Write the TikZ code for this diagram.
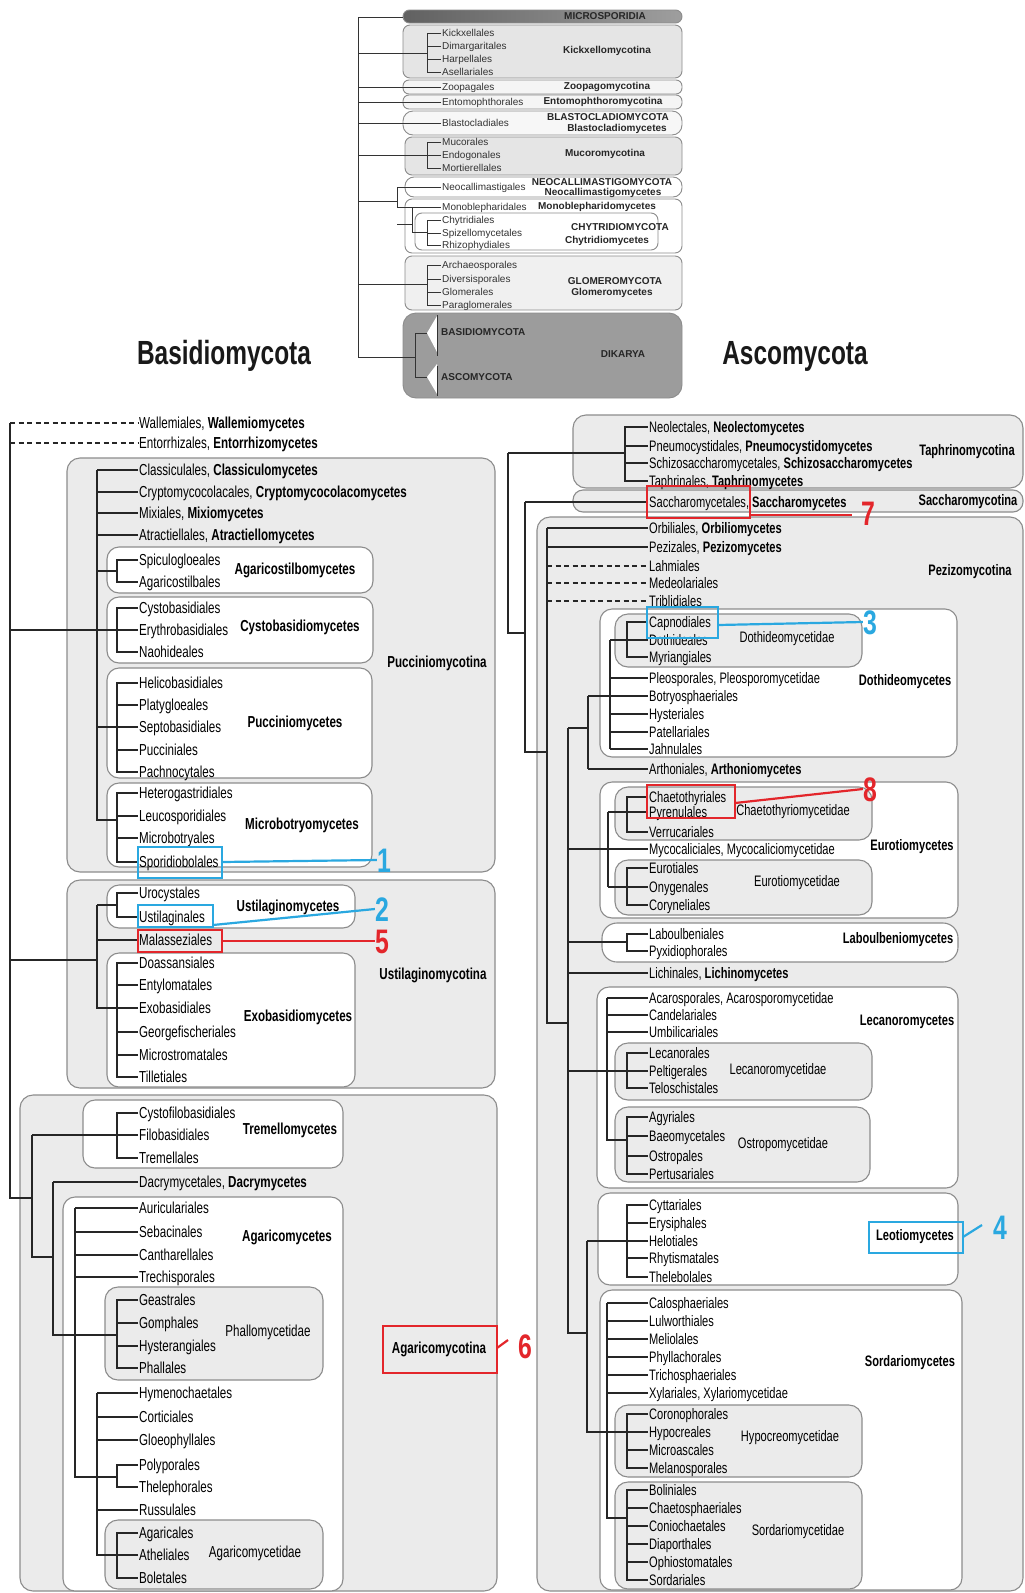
\documentclass[tikz,border=0pt]{standalone}
\usepackage{fontspec}
\setmainfont{Liberation Sans}
\newfontfamily\cond{Liberation Sans}[FakeStretch=0.73]
\definecolor{annb}{HTML}{2AA8E0}
\definecolor{annr}{HTML}{E3262B}
\definecolor{lgray}{HTML}{EBEBEB}
\definecolor{dgray}{HTML}{9C9C9C}
\definecolor{bord}{HTML}{8C8C8C}
\newcommand\brk[3][21]{\draw[tree] (#2.west) -- ++(-#1,0) |- (#3.west);}
\newcommand\tik[2][21]{\draw[tree] (#2.west) -- ++(-#1,0);}
\newcommand\brkT[3][14]{\draw[treeT] (#2.west) -- ++(-#1,0) |- (#3.west);}
\newcommand\tikT[2][14]{\draw[treeT] (#2.west) -- ++(-#1,0);}
\newcommand\lfL[3]{\node[leafL] (#1) at (138,#2) {#3};}
\newcommand\lfR[3]{\node[leafR] (#1) at (648,#2) {#3};}
\newcommand\lfT[3]{\node[leafT] (#1) at (441,#2) {#3};}
\begin{document}
\begin{tikzpicture}[x=1pt,y=-1pt,
 tree/.style={draw=black!85, line width=1.5pt},
 treeT/.style={draw=black!80, line width=1pt},
 dashtree/.style={draw=black!85, line width=1.3pt, dash pattern=on 5pt off 3.5pt},
 gbox/.style={draw=bord, line width=1.1pt, fill=lgray, rounded corners=13pt},
 wbox/.style={draw=bord, line width=1.1pt, fill=white, rounded corners=12pt},
 tbox/.style={draw=bord, line width=0.9pt, rounded corners=7pt},
 leafL/.style={anchor=west, inner sep=1pt, text height=11pt, text depth=0pt, font=\cond\fontsize{15.9}{16}\selectfont},
 leafR/.style={anchor=west, inner sep=1pt, text height=10.6pt, text depth=0pt, font=\cond\fontsize{15.2}{15}\selectfont},
 leafT/.style={anchor=west, inner sep=1pt, text height=7pt, text depth=0pt, font=\fontsize{10}{10}\selectfont, text=black!80},
 labL/.style={inner sep=0pt, font=\cond\bfseries\fontsize{15.9}{16}\selectfont},
 subL/.style={inner sep=0pt, font=\cond\fontsize{15.9}{16}\selectfont},
 labR/.style={inner sep=0pt, font=\cond\bfseries\fontsize{15.2}{15}\selectfont},
 subR/.style={inner sep=0pt, font=\cond\fontsize{15.2}{15}\selectfont},
 labT/.style={inner sep=0pt, font=\bfseries\fontsize{10}{10}\selectfont, text=black!85},
 big/.style={inner sep=0pt, font=\cond\bfseries\fontsize{33.5}{34}\selectfont, text=black!90},
 annbox/.style={line width=2.5pt},
 annline/.style={line width=2.2pt},
 num/.style={font=\cond\bfseries\fontsize{34}{34}\selectfont, inner sep=0pt, text height=24pt, text depth=0pt},
]
\useasboundingbox (0,0) rectangle (1025,1593);
\fill[white] (0,0) rectangle (1025,1593);

%================ TOP PANEL =================
\draw[tbox, rounded corners=6.5pt, left color=black!62, right color=black!38] (403,10) rectangle (682,23);
\draw[tbox, fill=black!10] (403,25) rectangle (682,78);
\draw[tbox, fill=black!4, rounded corners=6pt] (403,80) rectangle (682,94);
\draw[tbox, fill=black!4, rounded corners=6pt] (403,95) rectangle (682,109);
\draw[tbox, fill=black!3, rounded corners=10pt] (403,111) rectangle (682,135);
\draw[tbox, fill=black!10] (405,137) rectangle (682,175);
\draw[tbox, fill=white, rounded corners=9pt] (405,177) rectangle (682,197);
\draw[tbox, fill=white] (405,199) rectangle (682,253);
\draw[tbox, fill=white] (415,213) rectangle (658,250);
\draw[tbox, fill=black!6] (405,256) rectangle (682,310);
\draw[tbox, fill=dgray, rounded corners=13pt] (403,313) rectangle (682,398);

\lfT{Tkick}{33}{Kickxellales}
\lfT{Tdima}{46}{Dimargaritales}
\lfT{Tharp}{59}{Harpellales}
\lfT{Tasel}{72}{Asellariales}
\lfT{Tzoop}{87}{Zoopagales}
\lfT{Tento}{102}{Entomophthorales}
\lfT{Tblas}{123}{Blastocladiales}
\lfT{Tmuco}{142}{Mucorales}
\lfT{Tendo}{155}{Endogonales}
\lfT{Tmort}{168}{Mortierellales}
\lfT{Tneoc}{187}{Neocallimastigales}
\lfT{Tmono}{207}{Monoblepharidales}
\lfT{Tchyt}{220}{Chytridiales}
\lfT{Tspiz}{233}{Spizellomycetales}
\lfT{Trhiz}{245}{Rhizophydiales}
\lfT{Tarch}{265}{Archaeosporales}
\lfT{Tdive}{279}{Diversisporales}
\lfT{Tglom}{292}{Glomerales}
\lfT{Tpara}{305}{Paraglomerales}

\node[labT] (Tmicro) at (605,16.5) {MICROSPORIDIA};
\node[labT] (Tkickl) at (607,51) {Kickxellomycotina};
\node[labT] (Tzoopl) at (607,87) {Zoopagomycotina};
\node[labT] (Tentol) at (603,102) {Entomophthoromycotina};
\node[labT] (Tblasl) at (608,117) {BLASTOCLADIOMYCOTA};
\node[labT] (Tblasm) at (617,129) {Blastocladiomycetes};
\node[labT] (Tmucol) at (605,154) {Mucoromycotina};
\node[labT] (Tneol) at (602,182) {NEOCALLIMASTIGOMYCOTA};
\node[labT] (Tneom) at (603,193) {Neocallimastigomycetes};
\node[labT] (Tmonol) at (597,207) {Monoblepharidomycetes};
\node[labT] (Tchytl) at (620,227) {CHYTRIDIOMYCOTA};
\node[labT] (Tchytm) at (607,241) {Chytridiomycetes};
\node[labT] (Tgloml) at (615,281) {GLOMEROMYCOTA};
\node[labT] (Tglomm) at (612,293) {Glomeromycetes};
\node[labT, anchor=west] (Tbasi) at (441,332) {BASIDIOMYCOTA};
\node[labT, anchor=west] (Tasco) at (441,377) {ASCOMYCOTA};
\node[labT] (Tdika) at (623,354) {DIKARYA};

\draw[treeT] (358,17) -- (358,357) -- (415,357);
\draw[treeT] (358,17) -- (403,17);
\draw[treeT] (358,53) -- (427,53);
\brkT{Tkick}{Tasel} \tikT{Tdima} \tikT{Tharp}
\tikT[83]{Tzoop} \tikT[83]{Tento} \tikT[83]{Tblas}
\draw[treeT] (358,155) -- (427,155);
\brkT{Tmuco}{Tmort} \tikT{Tendo}
\draw[treeT] (358,201) -- (397,201);
\draw[treeT] (397,224) -- (412,224);
\brkT[44]{Tneoc}{Tmono}
\draw[treeT] (412,207) -- (412,232) -- (427,232);
\brkT{Tchyt}{Trhiz} \tikT{Tspiz}
\draw[treeT] (358,284) -- (427,284);
\brkT{Tarch}{Tpara} \tikT{Tdive} \tikT{Tglom}
\fill[white] (427,333) -- (437,316) -- (437,352) -- cycle;
\fill[white] (427,377) -- (437,364) -- (437,394) -- cycle;
\draw[treeT] (437,315) -- (437,356);
\draw[treeT] (437,366) -- (437,396);
\draw[treeT] (415,333) -- (415,377);
\draw[treeT] (415,333) -- (427,333);
\draw[treeT] (415,377) -- (427,377);

\node[big] (basT) at (224,356) {Basidiomycota};
\node[big] (ascT) at (795,356) {Ascomycota};

%================ LEFT PANEL =================
\draw[gbox] (67,458) rectangle (495,872);
\draw[wbox] (107,547) rectangle (373,593);
\draw[wbox] (107,597) rectangle (373,663);
\draw[wbox] (107,668) rectangle (372,778);
\draw[wbox] (107,783) rectangle (372,867);
\draw[gbox] (67,880) rectangle (495,1088);
\draw[wbox] (107,885) rectangle (355,928);
\draw[wbox] (107,953) rectangle (355,1087);
\draw[gbox] (20,1095) rectangle (497,1591);
\draw[wbox] (83,1100) rectangle (343,1168);
\draw[wbox] (63,1197) rectangle (343,1591);
\draw[gbox] (105,1287) rectangle (323,1380);
\draw[gbox] (105,1520) rectangle (323,1589);

\lfL{Lwall}{423}{Wallemiales, \textbf{Wallemiomycetes}}
\lfL{Lentr}{443}{Entorrhizales, \textbf{Entorrhizomycetes}}
\lfL{Lclas}{470}{Classiculales, \textbf{Classiculomycetes}}
\lfL{Lcryp}{492}{Cryptomycocolacales, \textbf{Cryptomycocolacomycetes}}
\lfL{Lmixi}{513}{Mixiales, \textbf{Mixiomycetes}}
\lfL{Latra}{535}{Atractiellales, \textbf{Atractiellomycetes}}
\lfL{Lspic}{560}{Spiculogloeales}
\lfL{Lagar}{582}{Agaricostilbales}
\lfL{Lcyst}{608}{Cystobasidiales}
\lfL{Leryt}{630}{Erythrobasidiales}
\lfL{Lnaoh}{652}{Naohideales}
\lfL{Lheli}{683}{Helicobasidiales}
\lfL{Lplat}{705}{Platygloeales}
\lfL{Lsept}{727}{Septobasidiales}
\lfL{Lpucc}{750}{Pucciniales}
\lfL{Lpach}{772}{Pachnocytales}
\lfL{Lhete}{793}{Heterogastridiales}
\lfL{Lleuc}{816}{Leucosporidiales}
\lfL{Lmicr}{838}{Microbotryales}
\lfL{Lspor}{862}{Sporidiobolales}
\lfL{Luroc}{893}{Urocystales}
\lfL{Lusti}{917}{Ustilaginales}
\lfL{Lmala}{940}{Malasseziales}
\lfL{Ldoas}{963}{Doassansiales}
\lfL{Lenty}{985}{Entylomatales}
\lfL{Lexob}{1008}{Exobasidiales}
\lfL{Lgeor}{1032}{Georgefischeriales}
\lfL{Lmics}{1055}{Microstromatales}
\lfL{Ltill}{1077}{Tilletiales}
\lfL{Lcyfi}{1113}{Cystofilobasidiales}
\lfL{Lfilo}{1135}{Filobasidiales}
\lfL{Ltrem}{1158}{Tremellales}
\lfL{Ldacr}{1182}{Dacrymycetales, \textbf{Dacrymycetes}}
\lfL{Lauri}{1208}{Auriculariales}
\lfL{Lseba}{1232}{Sebacinales}
\lfL{Lcant}{1255}{Cantharellales}
\lfL{Ltrec}{1277}{Trechisporales}
\lfL{Lgeas}{1300}{Geastrales}
\lfL{Lgomp}{1323}{Gomphales}
\lfL{Lhyst}{1346}{Hysterangiales}
\lfL{Lphal}{1368}{Phallales}
\lfL{Lhyme}{1393}{Hymenochaetales}
\lfL{Lcort}{1417}{Corticiales}
\lfL{Lgloe}{1440}{Gloeophyllales}
\lfL{Lpoly}{1465}{Polyporales}
\lfL{Lthel}{1487}{Thelephorales}
\lfL{Lruss}{1510}{Russulales}
\lfL{Lagac}{1533}{Agaricales}
\lfL{Lathe}{1555}{Atheliales}
\lfL{Lbole}{1578}{Boletales}

\node[labL] (Lagstl) at (295,570) {Agaricostilbomycetes};
\node[labL] (Lcystl) at (300,627) {Cystobasidiomycetes};
\node[labL] (Lpuccl) at (295,723) {Pucciniomycetes};
\node[labL] (Lmicrl) at (302,825) {Microbotryomycetes};
\node[labL] (Lpuctl) at (437,663) {Pucciniomycotina};
\node[labL] (Lustml) at (288,907) {Ustilaginomycetes};
\node[labL] (Lexobl) at (298,1017) {Exobasidiomycetes};
\node[labL] (Lusttl) at (433,975) {Ustilaginomycotina};
\node[labL] (Ltreml) at (290,1130) {Tremellomycetes};
\node[labL] (Lagmyl) at (287,1237) {Agaricomycetes};
\node[subL] (Lphall) at (268,1332) {Phallomycetidae};
\node[subL] (Lagidl) at (255,1553) {Agaricomycetidae};
\node[labL] (Lagtl) at (439,1349) {Agaricomycotina};

\draw[tree] (10,423) -- (10,1198) -- (32,1198);
\draw[dashtree] (10,423) -- (Lwall.west);
\draw[dashtree] (10,443) -- (Lentr.west);
\draw[tree] (10,630) -- (97,630);
\draw[tree] (97,470) -- (97,820) -- (117,820);
\tik[41]{Lclas} \tik[41]{Lcryp} \tik[41]{Lmixi} \tik[41]{Latra}
\draw[tree] (97,571) -- (117,571);
\brk{Lspic}{Lagar}
\brk{Lcyst}{Lnaoh} \tik[41]{Leryt}
\draw[tree] (97,727) -- (117,727);
\brk{Lheli}{Lpach} \tik{Lplat} \tik{Lsept} \tik{Lpucc}
\brk{Lhete}{Lspor} \tik{Lleuc} \tik{Lmicr}
\draw[tree] (10,960) -- (97,960);
\draw[tree] (97,905) -- (97,1008) -- (117,1008);
\draw[tree] (97,905) -- (117,905);
\brk{Luroc}{Lusti}
\tik[41]{Lmala}
\brk{Ldoas}{Ltill} \tik{Lenty} \tik{Lexob} \tik{Lgeor} \tik{Lmics}
\draw[tree] (32,1135) -- (32,1257) -- (53,1257);
\draw[tree] (32,1135) -- (117,1135);
\brk{Lcyfi}{Ltrem} \tik{Lfilo}
\draw[tree] (53,1182) -- (53,1335) -- (117,1335);
\tik[85]{Ldacr}
\draw[tree] (75,1208) -- (75,1477) -- (117,1477);
\tik[63]{Lauri} \tik[63]{Lseba} \tik[63]{Lcant} \tik[63]{Ltrec}
\brk{Lgeas}{Lphal} \tik{Lgomp} \tik{Lhyst}
\draw[tree] (97,1393) -- (97,1555) -- (117,1555);
\tik[41]{Lhyme} \tik[41]{Lcort} \tik[41]{Lgloe} \tik[41]{Lruss}
\brk{Lpoly}{Lthel}
\brk{Lagac}{Lbole} \tik{Lathe}

% annotations left
\draw[annb, annbox] (138,847) rectangle (222,878);
\node[num, text=annb] (n1) at (384,860) {1};
\draw[annb, annline] (222,862) -- (n1.west);
\draw[annb, annbox] (138,905) rectangle (213,927);
\node[num, text=annb] (n2) at (382,909) {2};
\draw[annb, annline] (213,925) -- (n2.west);
\draw[annr, annbox] (138,930) rectangle (222,952);
\node[num, text=annr] (n5) at (382,941) {5};
\draw[annr, annline] (222,941) -- (n5.west);
\draw[annr, annbox] (383,1326) rectangle (497,1373);
\node[num, text=annr] (n6) at (525,1346) {6};
\draw[annr, annline] (497,1348) -- (508,1340);

%================ RIGHT PANEL =================
\draw[gbox] (573,415) rectangle (1023,488);
\draw[gbox, rounded corners=10pt] (573,490) rectangle (1023,512);
\draw[gbox] (537,517) rectangle (1023,1591);
\draw[wbox] (600,609) rectangle (957,757);
\draw[gbox] (615,614) rectangle (862,667);
\draw[wbox] (600,782) rectangle (958,918);
\draw[gbox] (615,787) rectangle (872,840);
\draw[gbox] (615,860) rectangle (872,915);
\draw[wbox, rounded corners=15pt] (602,923) rectangle (958,962);
\draw[wbox] (597,987) rectangle (958,1188);
\draw[gbox] (615,1043) rectangle (872,1100);
\draw[gbox] (615,1107) rectangle (870,1182);
\draw[wbox] (598,1193) rectangle (958,1285);
\draw[wbox] (600,1290) rectangle (962,1590);
\draw[gbox] (615,1405) rectangle (862,1477);
\draw[gbox] (615,1482) rectangle (862,1589);

\lfR{Rneol}{427}{Neolectales, \textbf{Neolectomycetes}}
\lfR{Rpneu}{446}{Pneumocystidales, \textbf{Pneumocystidomycetes}}
\lfR{Rschi}{463}{Schizosaccharomycetales, \textbf{Schizosaccharomycetes}}
\lfR{Rtaph}{481}{Taphrinales, \textbf{Taphrinomycetes}}
\lfR{Rsacc}{502}{Saccharomycetales, \textbf{Saccharomycetes}}
\lfR{Rorbi}{528}{Orbiliales, \textbf{Orbiliomycetes}}
\lfR{Rpezi}{547}{Pezizales, \textbf{Pezizomycetes}}
\lfR{Rlahm}{566}{Lahmiales}
\lfR{Rmede}{583}{Medeolariales}
\lfR{Rtrib}{601}{Triblidiales}
\lfR{Rcapn}{622}{Capnodiales}
\lfR{Rdoth}{640}{Dothideales}
\lfR{Rmyri}{657}{Myriangiales}
\lfR{Rpleo}{678}{Pleosporales, Pleosporomycetidae}
\lfR{Rbotr}{696}{Botryosphaeriales}
\lfR{Rhyst}{714}{Hysteriales}
\lfR{Rpate}{732}{Patellariales}
\lfR{Rjahn}{749}{Jahnulales}
\lfR{Rarth}{769}{Arthoniales, \textbf{Arthoniomycetes}}
\lfR{Rchae}{797}{Chaetothyriales}
\lfR{Rpyre}{812}{Pyrenulales}
\lfR{Rverr}{832}{Verrucariales}
\lfR{Rmyco}{849}{Mycocaliciales, Mycocaliciomycetidae}
\lfR{Reuro}{868}{Eurotiales}
\lfR{Ronyg}{887}{Onygenales}
\lfR{Rcory}{905}{Coryneliales}
\lfR{Rlabo}{934}{Laboulbeniales}
\lfR{Rpyxi}{951}{Pyxidiophorales}
\lfR{Rlich}{973}{Lichinales, \textbf{Lichinomycetes}}
\lfR{Racar}{998}{Acarosporales, Acarosporomycetidae}
\lfR{Rcand}{1015}{Candelariales}
\lfR{Rumbi}{1032}{Umbilicariales}
\lfR{Rleca}{1053}{Lecanorales}
\lfR{Rpelt}{1071}{Peltigerales}
\lfR{Rtelo}{1088}{Teloschistales}
\lfR{Ragyr}{1117}{Agyriales}
\lfR{Rbaeo}{1136}{Baeomycetales}
\lfR{Rostr}{1156}{Ostropales}
\lfR{Rpert}{1174}{Pertusariales}
\lfR{Rcytt}{1205}{Cyttariales}
\lfR{Rerys}{1223}{Erysiphales}
\lfR{Rhelo}{1241}{Helotiales}
\lfR{Rrhyt}{1258}{Rhytismatales}
\lfR{Rthel}{1277}{Thelebolales}
\lfR{Rcalo}{1303}{Calosphaeriales}
\lfR{Rlulw}{1321}{Lulworthiales}
\lfR{Rmeli}{1339}{Meliolales}
\lfR{Rphyl}{1357}{Phyllachorales}
\lfR{Rtric}{1375}{Trichosphaeriales}
\lfR{Rxyla}{1393}{Xylariales, Xylariomycetidae}
\lfR{Rcoro}{1414}{Coronophorales}
\lfR{Rhypo}{1432}{Hypocreales}
\lfR{Rmica}{1450}{Microascales}
\lfR{Rmela}{1468}{Melanosporales}
\lfR{Rboli}{1490}{Boliniales}
\lfR{Rchsp}{1508}{Chaetosphaeriales}
\lfR{Rconi}{1526}{Coniochaetales}
\lfR{Rdiap}{1544}{Diaporthales}
\lfR{Rophi}{1562}{Ophiostomatales}
\lfR{Rsord}{1580}{Sordariales}

\node[labR] (Rtaphl) at (967,452) {Taphrinomycotina};
\node[labR] (Rsaccl) at (968,502) {Saccharomycotina};
\node[labR] (Rpezil) at (970,572) {Pezizomycotina};
\node[subR] (Rdotsl) at (787,639) {Dothideomycetidae};
\node[labR] (Rdothl) at (905,682) {Dothideomycetes};
\node[subR] (Rchael) at (793,812) {Chaetothyriomycetidae};
\node[labR] (Reurol) at (912,847) {Eurotiomycetes};
\node[subR] (Reursl) at (797,883) {Eurotiomycetidae};
\node[labR] (Rlabol) at (898,940) {Laboulbeniomycetes};
\node[labR] (Rlecal) at (907,1022) {Lecanoromycetes};
\node[subR] (Rlecsl) at (778,1071) {Lecanoromycetidae};
\node[subR] (Rostrl) at (783,1145) {Ostropomycetidae};
\node[labR] (Rleotl) at (915,1237) {Leotiomycetes};
\node[labR] (Rsordl) at (910,1363) {Sordariomycetes};
\node[subR] (Rhypol) at (790,1438) {Hypocreomycetidae};
\node[subR] (Rsorsl) at (798,1532) {Sordariomycetidae};

\draw[tree] (508,453) -- (508,633) -- (525,633);
\draw[tree] (508,453) -- (625,453);
\brk[23]{Rneol}{Rtaph} \tik[23]{Rpneu} \tik[23]{Rschi}
\draw[tree] (525,502) -- (525,752) -- (547,752);
\tik[123]{Rsacc}
\draw[tree] (547,528) -- (547,1023) -- (568,1023);
\tik[101]{Rorbi} \tik[101]{Rpezi}
\draw[dashtree] (547,566) -- (Rlahm.west);
\draw[dashtree] (547,583) -- (Rmede.west);
\draw[dashtree] (547,601) -- (Rtrib.west);
\draw[tree] (568,728) -- (568,1333) -- (587,1333);
\draw[tree] (568,728) -- (588,728);
\draw[tree] (588,696) -- (588,769);
\tik[60]{Rarth} \tik[60]{Rbotr}
\draw[tree] (610,640) -- (610,749);
\tik[38]{Rpleo} \tik[38]{Rhyst} \tik[38]{Rpate} \tik[38]{Rjahn}
\draw[tree] (610,640) -- (627,640);
\brk{Rcapn}{Rmyri} \tik{Rdoth}
\tik[80]{Rmyco}
\draw[tree] (608,812) -- (608,887);
\draw[tree] (608,812) -- (627,812);
\draw[tree] (608,887) -- (627,887);
\brk{Rchae}{Rverr} \tik{Rpyre}
\brk{Reuro}{Rcory} \tik{Ronyg}
\draw[tree] (568,942) -- (627,942);
\brk{Rlabo}{Rpyxi}
\tik[80]{Rlich}
\draw[tree] (607,998) -- (607,1140) -- (627,1140);
\tik[41]{Racar} \tik[41]{Rcand} \tik[41]{Rumbi}
\draw[tree] (568,1071) -- (627,1071);
\brk{Rleca}{Rtelo} \tik{Rpelt}
\brk{Ragyr}{Rpert} \tik{Rbaeo} \tik{Rostr}
\draw[tree] (587,1241) -- (587,1432) -- (627,1432);
\draw[tree] (587,1241) -- (627,1241);
\brk{Rcytt}{Rthel} \tik{Rerys} \tik{Rhelo} \tik{Rrhyt}
\draw[tree] (607,1303) -- (607,1518) -- (627,1518);
\tik[41]{Rcalo} \tik[41]{Rlulw} \tik[41]{Rmeli} \tik[41]{Rphyl} \tik[41]{Rtric} \tik[41]{Rxyla}
\brk{Rcoro}{Rmela} \tik{Rhypo} \tik{Rmica}
\brk{Rboli}{Rsord} \tik{Rchsp} \tik{Rconi} \tik{Rdiap} \tik{Rophi}

% annotations right
\draw[annr, annbox] (647,486) rectangle (750,518);
\node[num, text=annr] (n7) at (868,513) {7};
\draw[annr, annline] (750,515) -- (852,515);
\draw[annb, annbox] (647,607) rectangle (718,638);
\node[num, text=annb] (n3) at (870,622) {3};
\draw[annb, annline] (718,625) -- (n3.west);
\draw[annr, annbox] (647,785) rectangle (735,818);
\node[num, text=annr] (n8) at (870,789) {8};
\draw[annr, annline] (735,803) -- (n8.west);
\draw[annb, annbox] (869,1222) rectangle (963,1253);
\node[num, text=annb] (n4) at (1000,1227) {4};
\draw[annb, annline] (963,1237) -- (982,1225);
\end{tikzpicture}
\end{document}
